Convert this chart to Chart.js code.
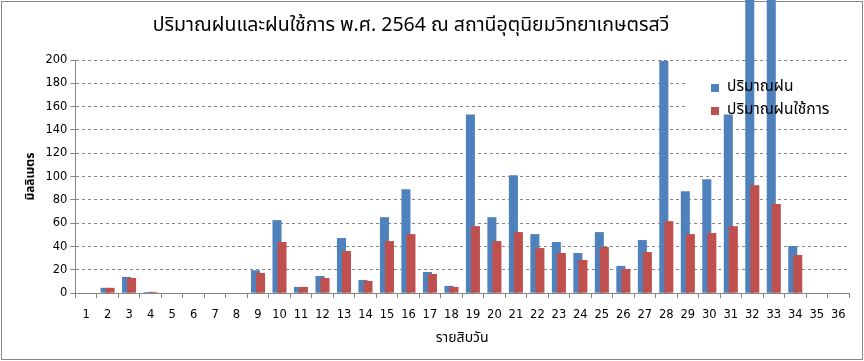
<!DOCTYPE html>
<html>
<head>
<meta charset="utf-8">
<script src="https://cdn.jsdelivr.net/npm/chart.js@4.4.1/dist/chart.umd.min.js"></script>
<style>
  html, body { margin: 0; padding: 0; background: #fff; }
  #wrap { width: 864px; height: 361px; position: relative; }
</style>
</head>
<body>
<div id="wrap"><canvas id="chart"></canvas></div>
<script>
// rain per 10-day period (dekad), mm
const dekads = ['1','2','3','4','5','6','7','8','9','10','11','12','13','14','15','16','17','18',
  '19','20','21','22','23','24','25','26','27','28','29','30','31','32','33','34','35','36'];
const rainfall = [0, 4.6, 14.0, 1.1, 0, 0, 0, 0, 19.7, 62.7, 5.4, 14.8, 47.3, 11.4, 65.2, 89.2, 18.2, 6.3,
  153.3, 65.2, 101.1, 50.7, 43.9, 34.5, 52.4, 23.4, 45.6, 199.4, 87.5, 97.7, 153.3, 330, 300, 40.5, null, null];
const effectiveRain = [0, 4.6, 13.1, 1.1, 0, 0, 0, 0, 17.4, 43.9, 5.4, 13.1, 36.2, 10.5, 44.7, 50.7, 16.5, 5.4,
  57.5, 44.7, 52.4, 38.7, 34.5, 28.5, 39.6, 20.8, 35.3, 61.8, 50.7, 51.6, 57.5, 92.6, 76.4, 32.8, null, null];
const yTicks = [0, 20, 40, 60, 80, 100, 120, 140, 160, 180, 200];

const seriesNames = ['ปริมาณฝน', 'ปริมาณฝนใช้การ'];
const seriesColors = ['#4F81BD', '#C0504D'];
const chartTitle = 'ปริมาณฝนและฝนใช้การ พ.ศ. 2564 ณ สถานีอุตุนิยมวิทยาเกษตรสวี';

const THAI = 'Tahoma, "Noto Sans Thai", "Noto Sans", "DejaVu Sans", sans-serif';
const AXIS = '#868686';

// white page + grey outer frame (bars may run over it)
const frame = {
  id: 'frame',
  beforeDraw(chart) {
    const ctx = chart.ctx;
    ctx.save();
    ctx.fillStyle = '#fff';
    ctx.fillRect(0, 0, chart.width, chart.height);
    ctx.strokeStyle = AXIS;
    ctx.lineWidth = 1;
    ctx.strokeRect(1.5, 1.5, chart.width - 3, chart.height - 3);
    ctx.fillStyle = '#000';
    ctx.font = '19.5px ' + THAI;
    ctx.textAlign = 'center';
    ctx.textBaseline = 'middle';
    ctx.fillText(chartTitle, 411, 27);
    ctx.restore();
  }
};

// legend sits inside the plot: white box hides gridlines, text goes on top of bars
const insideLegend = {
  id: 'insideLegend',
  beforeDatasetsDraw(chart) {
    const ctx = chart.ctx;
    ctx.save();
    ctx.fillStyle = '#fff';
    ctx.fillRect(685, 68, chart.chartArea.right - 685, 52);
    ctx.restore();
  },
  afterDatasetsDraw(chart) {
    const ctx = chart.ctx;
    ctx.save();
    ctx.font = '15.5px ' + THAI;
    ctx.textBaseline = 'middle';
    ctx.textAlign = 'left';
    seriesNames.forEach((name, i) => {
      const y = 88 + i * 23;
      ctx.fillStyle = seriesColors[i];
      ctx.fillRect(711, y - 4, 8, 8);
      ctx.fillStyle = '#000';
      ctx.fillText(name, 727, y);
    });
    ctx.restore();
  }
};

// Excel draws the second series over the first where they overlap
const seriesOrder = {
  id: 'seriesOrder',
  beforeDatasetDraw(chart, args) {
    if (args.index === 0) return false;
    if (args.index === 1) chart.getDatasetMeta(0).controller.draw();
  }
};

new Chart(document.getElementById('chart'), {
  type: 'bar',
  data: {
    labels: dekads,
    datasets: [
      {
        label: seriesNames[0],
        data: rainfall,
        backgroundColor: seriesColors[0],
        categoryPercentage: 0.467,
        barPercentage: 1.8,
        clip: false
      },
      {
        label: seriesNames[1],
        data: effectiveRain,
        backgroundColor: seriesColors[1],
        categoryPercentage: 0.467,
        barPercentage: 1.8,
        clip: false
      }
    ]
  },
  options: {
    responsive: true,
    maintainAspectRatio: false,
    animation: false,
    layout: { padding: { top: 60, right: 15, bottom: 11, left: 20 } },
    plugins: {
      legend: { display: false },
      title: { display: false },
      tooltip: { enabled: false }
    },
    scales: {
      x: {
        grid: { drawOnChartArea: false, drawTicks: true, tickLength: 5, color: AXIS, offset: true },
        border: { color: AXIS },
        ticks: { color: '#000', font: { family: '"DejaVu Sans", sans-serif', size: 11.5 }, padding: 10, maxRotation: 0, autoSkip: false },
        title: { display: true, text: 'รายสิบวัน', color: '#000', font: { family: THAI, size: 14, lineHeight: 1 }, padding: { top: 0, bottom: 4 } }
      },
      y: {
        min: 0,
        max: 200,
        afterBuildTicks(scale) { scale.ticks = yTicks.map(v => ({ value: v })); },
        grid: { color: AXIS, tickLength: 5, tickBorderDash: [] },
        border: { color: AXIS, dash: [3, 3] },
        ticks: { color: '#000', font: { family: '"DejaVu Sans", sans-serif', size: 11.5 }, padding: 3 },
        title: { display: true, text: 'มิลลิเมตร', color: '#000', font: { family: THAI, size: 12, weight: 'bold' }, padding: { top: 4, bottom: 4 } }
      }
    }
  },
  plugins: [frame, insideLegend, seriesOrder]
});
</script>
</body>
</html>
